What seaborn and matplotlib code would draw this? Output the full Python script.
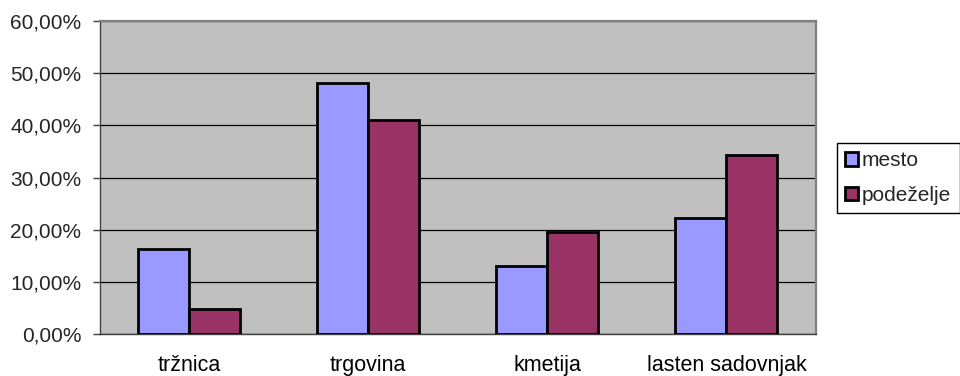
import matplotlib
matplotlib.use("Agg")
import matplotlib.pyplot as plt
from matplotlib.ticker import FuncFormatter, FixedLocator
import seaborn as sns
import pandas as pd

categories = ["tržnica", "trgovina", "kmetija", "lasten sadovnjak"]
series_names = ["mesto", "podeželje"]
mesto = [16.3, 48.2, 13.0, 22.3]
podezelje = [4.8, 41.0, 19.6, 34.4]
y_ticks = [0, 10, 20, 30, 40, 50, 60]

df = pd.DataFrame({
    "kategorija": categories * 2,
    "skupina": [series_names[0]] * len(categories) + [series_names[1]] * len(categories),
    "delez": mesto + podezelje,
})

sns.set_theme(style="white")
plt.rcParams["font.family"] = ["Liberation Sans", "DejaVu Sans"]
plt.rcParams["font.size"] = 15

fig = plt.figure(figsize=(9.6, 3.76), dpi=100)
ax = fig.add_axes([99.5 / 960, 42 / 376, (816 - 99.5) / 960, (334 - 21) / 376])
ax.set_facecolor("#C0C0C0")

sns.barplot(
    data=df, x="kategorija", y="delez", hue="skupina",
    order=categories, hue_order=series_names,
    palette=["#9999FF", "#993366"], width=0.57,
    edgecolor="black", linewidth=2.0, saturation=1,
    ax=ax, zorder=3,
)

ax.set_xlim(-0.5, len(categories) - 0.5)
ax.set_ylim(0, 60)
ax.yaxis.set_major_locator(FixedLocator(y_ticks))
ax.yaxis.set_major_formatter(FuncFormatter(lambda v, _: f"{v:.2f}".replace(".", ",") + "%"))
ax.grid(axis="y", color="black", linewidth=0.9, zorder=1)
ax.set_axisbelow(True)
ax.set_xlabel("")
ax.set_ylabel("")

ax.xaxis.set_minor_locator(FixedLocator([i - 0.5 for i in range(len(categories) + 1)]))
ax.tick_params(axis="x", which="major", length=0, pad=15, labelsize=15.5, colors="black")
ax.tick_params(axis="x", which="minor", length=5, width=1, color="#404040", direction="out")
ax.tick_params(axis="y", which="major", length=5, width=1, color="#404040", direction="out",
               pad=8, labelsize=15, left=True)

for side in ("left", "bottom"):
    ax.spines[side].set_color("#404040")
    ax.spines[side].set_linewidth(1.0)
for side in ("top", "right"):
    ax.spines[side].set_color("#808080")
    ax.spines[side].set_linewidth(1.6)

handles, labels = ax.get_legend_handles_labels()
ax.legend_.remove()
leg = fig.legend(
    handles, labels, loc="upper left",
    bbox_to_anchor=(837 / 960, 1 - 143 / 376), borderaxespad=0,
    frameon=True, fancybox=False, edgecolor="black", framealpha=1,
    fontsize=15, handlelength=0.6, handleheight=0.6, handletextpad=0.2,
    labelspacing=0.75, borderpad=0.4,
)
leg.get_frame().set_linewidth(1.0)

fig.savefig("out.png", dpi=100)
